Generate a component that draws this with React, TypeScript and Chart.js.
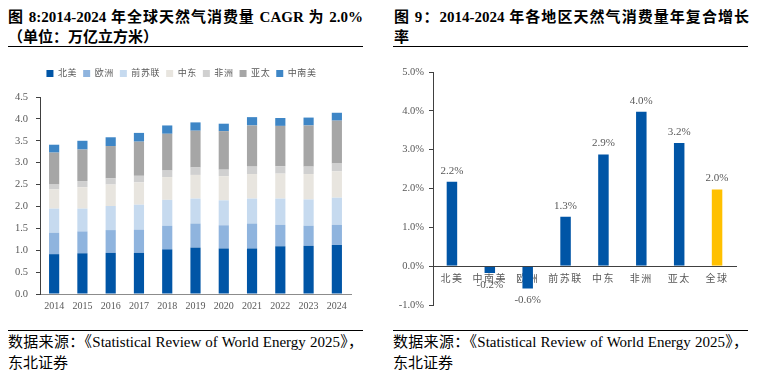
import React, { useEffect, useRef } from 'react';
import { Chart, registerables } from 'chart.js';

Chart.register(...registerables);

const FONT = '"Liberation Serif", "Noto Sans CJK SC", serif';

// ---- Figure 8 data (万亿立方米) ----
const years = ['2014', '2015', '2016', '2017', '2018', '2019', '2020', '2021', '2022', '2023', '2024'];
const northAmerica = [0.91, 0.93, 0.94, 0.94, 1.02, 1.06, 1.04, 1.04, 1.09, 1.10, 1.12];
const europe = [0.49, 0.50, 0.52, 0.53, 0.54, 0.55, 0.53, 0.57, 0.49, 0.46, 0.46];
const cis = [0.55, 0.52, 0.55, 0.57, 0.59, 0.57, 0.57, 0.57, 0.60, 0.60, 0.62];
const middleEast = [0.44, 0.49, 0.49, 0.51, 0.52, 0.54, 0.55, 0.56, 0.57, 0.58, 0.60];
const africa = [0.11, 0.14, 0.14, 0.15, 0.15, 0.17, 0.15, 0.17, 0.17, 0.17, 0.18];
const asiaPacific = [0.73, 0.72, 0.74, 0.78, 0.84, 0.84, 0.88, 0.94, 0.92, 0.94, 0.98];
const southCentralAmerica = [0.18, 0.20, 0.20, 0.20, 0.19, 0.19, 0.17, 0.19, 0.18, 0.18, 0.18];
const seriesNames = ['北美', '欧洲', '前苏联', '中东', '非洲', '亚太', '中南美'];
const leftTicks = { min: 0, max: 4.5, step: 0.5 };

// ---- Figure 9 data (%) ----
const regions = ['北美', '中南美', '欧洲', '前苏联', '中东', '非洲', '亚太', '全球'];
const cagr = [2.2, -0.2, -0.6, 1.3, 2.9, 4.0, 3.2, 2.0];
const rightTicks = { min: -1, max: 5, step: 1 };

const seriesColors = ['#0055A6', '#8FB4DE', '#C6DAEF', '#E8E5DF', '#D0D0D0', '#A6A6A6', '#3E86C6'];

function withSpacing(ctx: any, spacing: string, fn: () => any) {
  const prev = ctx.letterSpacing;
  ctx.letterSpacing = spacing;
  try {
    return fn();
  } finally {
    ctx.letterSpacing = prev ?? '0px';
  }
}

const legendSpacingPlugin = {
  id: 'legendSpacing',
  beforeUpdate(chart: any, _a: any, opts: any) {
    const lg = chart.legend;
    if (lg && !lg.__wrapped) {
      const fit = lg.fit.bind(lg);
      const draw = lg.draw.bind(lg);
      lg.fit = function () {
        withSpacing(chart.ctx, '0.6px', fit);
        this.height += opts.extra || 0;
      };
      lg.draw = function () {
        withSpacing(chart.ctx, '0.6px', draw);
      };
      lg.__wrapped = true;
    }
  },
};

const xLabelSpacingPlugin = {
  id: 'xLabelSpacing',
  beforeDraw(chart: any) {
    const sc = chart.scales.x;
    if (sc && !sc.__wrapped) {
      const dl = sc.drawLabels.bind(sc);
      sc.drawLabels = function (area: any) {
        withSpacing(chart.ctx, '1.5px', () => dl(area));
      };
      sc.__wrapped = true;
    }
  },
};

const valueLabelPlugin = {
  id: 'valueLabels',
  afterDatasetsDraw(chart: any) {
    const ctx = chart.ctx;
    const meta = chart.getDatasetMeta(0);
    const data = chart.data.datasets[0].data as number[];
    ctx.save();
    ctx.font = '11px ' + FONT;
    ctx.fillStyle = '#595959';
    ctx.textAlign = 'center';
    ctx.textBaseline = 'middle';
    meta.data.forEach((bar: any, i: number) => {
      const v = data[i];
      const y = v >= 0 ? bar.y - 10 : bar.y + 11;
      ctx.fillText(v.toFixed(1) + '%', bar.x, y);
    });
    ctx.restore();
  },
};

export default function App() {
  const leftRef = useRef<HTMLCanvasElement>(null);
  const rightRef = useRef<HTMLCanvasElement>(null);

  useEffect(() => {
    const series = [northAmerica, europe, cis, middleEast, africa, asiaPacific, southCentralAmerica];
    const left = new Chart(leftRef.current!, {
      type: 'bar',
      data: {
        labels: years,
        datasets: series.map((d, i) => ({
          label: seriesNames[i],
          data: d,
          backgroundColor: seriesColors[i],
          borderWidth: 0,
          barPercentage: 0.36,
          categoryPercentage: 1,
        })),
      },
      options: {
        responsive: false,
        animation: false,
        layout: { padding: { top: 13, right: 14, left: 12, bottom: 0 } },
        plugins: {
          legend: {
            position: 'top',
            labels: {
              boxWidth: 7,
              boxHeight: 7,
              padding: 6,
              color: '#595959',
              font: { size: 9, family: FONT },
            },
          },
          tooltip: { enabled: false },
          legendSpacing: { extra: 9 },
        } as any,
        scales: {
          x: {
            stacked: true,
            grid: { display: false, drawTicks: false },
            border: { display: true, color: '#8C8C8C', width: 1 },
            ticks: { color: '#595959', font: { size: 10, family: FONT }, padding: 6, maxRotation: 0 },
            afterFit: (s: any) => { s.height = 30; },
          },
          y: {
            stacked: true,
            min: leftTicks.min,
            max: leftTicks.max,
            grid: { drawOnChartArea: false, drawTicks: true, tickLength: 4, color: '#404040' },
            border: { display: true, color: '#404040', width: 1 },
            ticks: {
              stepSize: leftTicks.step,
              color: '#595959',
              font: { size: 10.5, family: FONT },
              padding: 8,
              callback: (v: any) => Number(v).toFixed(1),
            },
            afterFit: (s: any) => { s.width = 28; },
          },
        },
      },
      plugins: [legendSpacingPlugin],
    } as any);

    const right = new Chart(rightRef.current!, {
      type: 'bar',
      data: {
        labels: regions,
        datasets: [
          {
            label: 'CAGR',
            data: cagr,
            backgroundColor: regions.map((r) => (r === '全球' ? '#FFC000' : '#0055A6')),
            borderColor: 'rgba(255,255,255,0.35)',
            borderWidth: 1,
            barPercentage: 0.33,
            categoryPercentage: 1,
          },
        ],
      },
      options: {
        responsive: false,
        animation: false,
        layout: { padding: { top: 22, right: 26, left: 0, bottom: 20 } },
        plugins: { legend: { display: false }, tooltip: { enabled: false } },
        scales: {
          x: {
            position: { y: 0 } as any,
            grid: { display: false, drawTicks: false },
            border: { display: true, color: '#404040', width: 1 },
            ticks: { color: '#595959', font: { size: 10, family: FONT }, padding: 7, maxRotation: 0 },
          },
          y: {
            min: rightTicks.min,
            max: rightTicks.max,
            grid: { drawOnChartArea: false, drawTicks: true, tickLength: 4, color: '#404040' },
            border: { display: true, color: '#404040', width: 1 },
            ticks: {
              stepSize: rightTicks.step,
              color: '#595959',
              font: { size: 10.5, family: FONT },
              padding: 5,
              callback: (v: any) => Number(v).toFixed(1) + '%',
            },
            afterFit: (s: any) => { s.width = 52; },
          },
        },
      },
      plugins: [valueLabelPlugin, xLabelSpacingPlugin],
    } as any);

    return () => {
      left.destroy();
      right.destroy();
    };
  }, []);

  const titleStyle: React.CSSProperties = {
    position: 'absolute',
    font: `bold 15px ${FONT}`,
    lineHeight: '20px',
    color: '#000',
    width: 355,
  };
  const justify: React.CSSProperties = { textAlign: 'justify', textAlignLast: 'justify', whiteSpace: 'nowrap' };
  const rule = (left: number, top: number): React.CSSProperties => ({
    position: 'absolute',
    left,
    top,
    width: 355,
    height: 0,
    borderTop: '1.5px solid #000',
  });
  const sourceStyle: React.CSSProperties = {
    position: 'absolute',
    font: `15px ${FONT}`,
    lineHeight: '21px',
    color: '#000',
    width: 355,
  };

  return (
    <div style={{ position: 'absolute', left: 0, top: 0, width: 762, height: 377, overflow: 'hidden', background: '#fff', fontFamily: FONT }}>
      <div style={{ ...titleStyle, left: 8, top: 7 }}>
        <div style={justify}>图 8:2014-2024 年全球天然气消费量 CAGR 为 2.0%</div>
        <div>（单位：万亿立方米）</div>
      </div>
      <div style={rule(8, 46)} />
      <div style={{ ...titleStyle, left: 394, top: 7 }}>
        <div style={justify}>图 9：2014-2024 年各地区天然气消费量年复合增长</div>
        <div>率</div>
      </div>
      <div style={rule(393, 46)} />

      <canvas ref={leftRef} width={365} height={274} style={{ position: 'absolute', left: 0, top: 50, width: 365, height: 274 }} />
      <canvas ref={rightRef} width={381} height={275} style={{ position: 'absolute', left: 381, top: 50, width: 381, height: 275 }} />

      <div style={rule(8, 330)} />
      <div style={{ ...sourceStyle, left: 8, top: 332 }}>
        <div style={justify}>数据来源：《Statistical Review of World Energy 2025》，</div>
        <div>东北证券</div>
      </div>
      <div style={rule(393, 330)} />
      <div style={{ ...sourceStyle, left: 393, top: 332 }}>
        <div style={justify}>数据来源：《Statistical Review of World Energy 2025》，</div>
        <div>东北证券</div>
      </div>
    </div>
  );
}
